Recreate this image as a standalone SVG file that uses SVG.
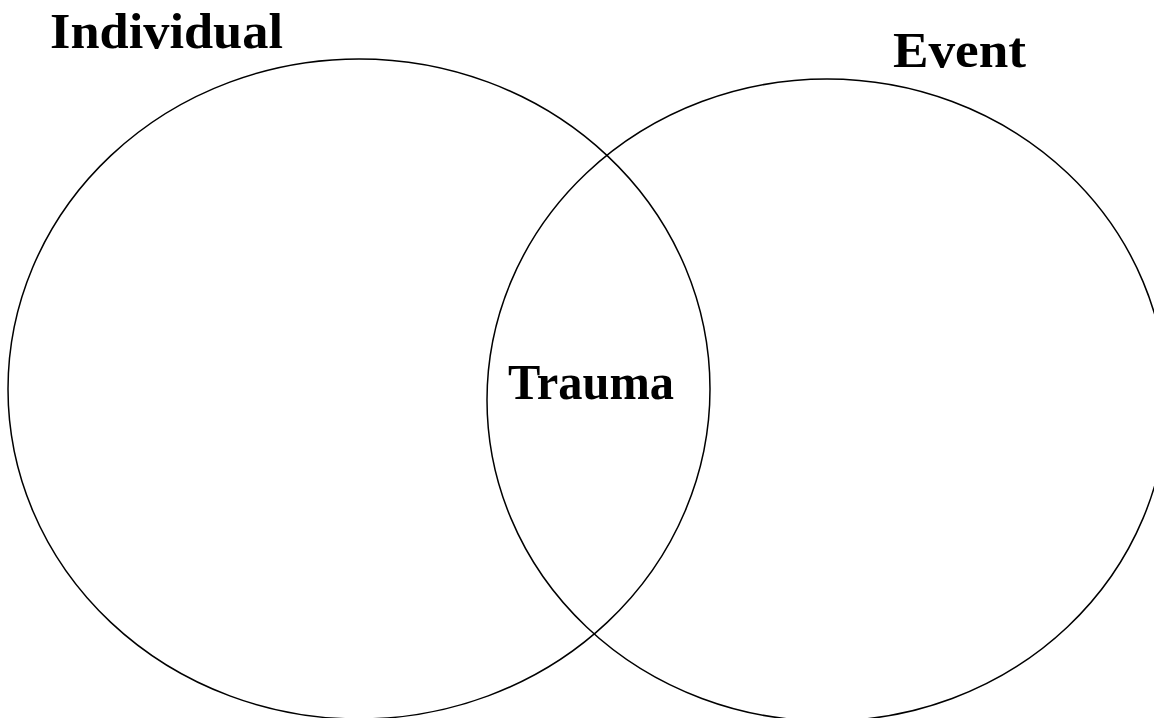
<svg xmlns="http://www.w3.org/2000/svg" width="1154" height="718" viewBox="0 0 1154 718">
<style>
.c{fill:none;stroke:#000;stroke-width:1.5}
.t{font-family:"Liberation Serif","Times New Roman",serif;font-weight:bold;font-size:50px;fill:#000}
</style>
<rect width="1154" height="718" fill="#fff"/>
<g id="individual">
<ellipse class="c" cx="359" cy="389" rx="351" ry="330"/>
<text class="t" x="50" y="48" textLength="233" lengthAdjust="spacingAndGlyphs">Individual</text>
</g>
<g id="event">
<ellipse class="c" cx="827" cy="400" rx="340" ry="321"/>
<text class="t" x="893" y="67" textLength="133" lengthAdjust="spacingAndGlyphs">Event</text>
</g>
<g id="trauma">
<text class="t" x="508" y="399" textLength="166" lengthAdjust="spacingAndGlyphs">Trauma</text>
</g>
<g id="connectors"></g>
</svg>
